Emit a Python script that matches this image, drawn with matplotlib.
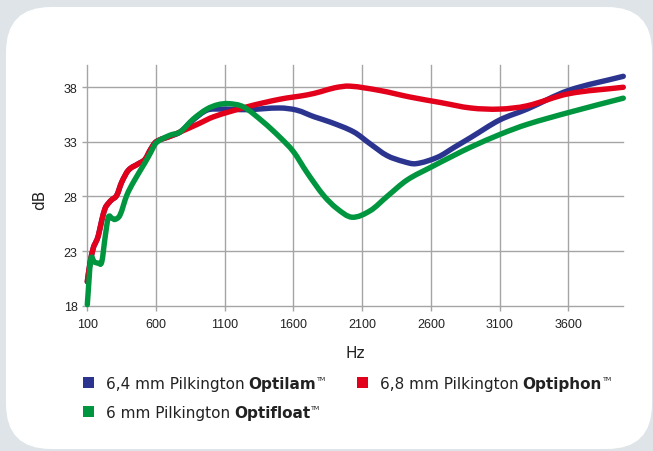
import matplotlib
matplotlib.use("Agg")
import numpy as np
import matplotlib.pyplot as plt
from matplotlib.patches import FancyBboxPatch, Rectangle, PathPatch
from matplotlib.path import Path
from matplotlib.transforms import IdentityTransform

# ---- data (Hz, dB)
red_hz = [100, 120, 144, 165, 180, 205, 229, 255, 278, 314, 350, 399, 472, 520, 560, 600,
          700, 775, 900, 1020, 1260, 1500, 1700, 1800, 1900, 2010, 2230, 2450, 2670, 2890,
          3100, 3300, 3600, 4000]
red_db = [20.2, 21.9, 23.3, 23.9, 24.4, 25.8, 26.9, 27.4, 27.7, 28.1, 29.3, 30.4, 31.0, 31.4, 32.3, 33.0,
          33.5, 33.9, 34.6, 35.3, 36.2, 36.9, 37.3, 37.6, 37.95, 38.1, 37.7, 37.1, 36.6, 36.1,
          36.0, 36.3, 37.4, 38.0]

blue_hz = [100, 120, 144, 165, 180, 205, 229, 255, 278, 314, 350, 399, 472, 520, 560, 600,
           700, 775, 870, 970, 1070, 1260, 1500, 1625, 1750, 1870, 2040, 2160, 2280, 2400,
           2490, 2650, 2770, 2890, 3100, 3300, 3600, 4000]
blue_db = [20.2, 21.9, 23.3, 23.9, 24.4, 25.8, 26.9, 27.4, 27.7, 28.1, 29.3, 30.4, 31.0, 31.4, 32.3, 33.0,
           33.5, 33.9, 35.0, 35.9, 36.0, 35.95, 36.1, 35.9, 35.3, 34.8, 33.9, 32.8, 31.75, 31.2,
           31.0, 31.6, 32.5, 33.4, 35.0, 36.0, 37.7, 39.0]

green_hz = [100, 125, 150, 180, 205, 230, 253, 280, 302, 338, 387, 435, 520, 560, 600, 700,
            775, 872, 970, 1050, 1127, 1236, 1382, 1503, 1600, 1698, 1819, 1916, 2026, 2159,
            2281, 2426, 2603, 2766, 2887, 3106, 3300, 3606, 4000]
green_db = [18.1, 22.2, 22.0, 21.9, 22.0, 24.3, 26.1, 26.0, 25.9, 26.3, 28.1, 29.3, 31.1, 32.0, 32.9, 33.6,
            33.9, 35.1, 36.0, 36.4, 36.5, 36.2, 34.8, 33.4, 32.1, 30.2, 28.1, 26.9, 26.1, 26.7,
            28.0, 29.5, 30.7, 31.75, 32.5, 33.7, 34.6, 35.7, 37.0]

x_ticks = [100, 600, 1100, 1600, 2100, 2600, 3100, 3600]
y_ticks = [18, 23, 28, 33, 38]

BLUE = "#2b3590"
RED = "#e3001b"
GREEN = "#00963f"
GRID = "#a5a5a5"
TXT = "#222222"
W, H = 653, 452


def smooth_path(xs, ys):
    # smoothed line like the spreadsheet "smooth line" option: cubic segments through the points
    x = np.asarray(xs, float)
    y = np.asarray(ys, float)
    n = len(x)
    m = np.zeros(n)
    m[0] = (y[1] - y[0]) / (x[1] - x[0])
    m[-1] = (y[-1] - y[-2]) / (x[-1] - x[-2])
    m[1:-1] = (y[2:] - y[:-2]) / (x[2:] - x[:-2])
    verts = [(x[0], y[0])]
    codes = [Path.MOVETO]
    for i in range(n - 1):
        d = (x[i + 1] - x[i]) / 3
        verts += [(x[i] + d, y[i] + m[i] * d), (x[i + 1] - d, y[i + 1] - m[i + 1] * d), (x[i + 1], y[i + 1])]
        codes += [Path.CURVE4] * 3
    return Path(verts, codes)


fig = plt.figure(figsize=(W / 100, H / 100), dpi=100)
fig.patch.set_facecolor("#dfe4e8")

# white rounded card
card = FancyBboxPatch((6, H - 450), 646, 442, boxstyle="round,pad=0,rounding_size=45",
                      transform=IdentityTransform(), facecolor="white", edgecolor="none", zorder=-5)
fig.add_artist(card)

ax = fig.add_axes([87.3 / W, 1 - 306.7 / H, (623.3 - 87.3) / W, (306.7 - 66.4) / H])
ax.set_facecolor("none")
for xs, ys, c in [(blue_hz, blue_db, BLUE), (red_hz, red_db, RED), (green_hz, green_db, GREEN)]:
    ax.add_patch(PathPatch(smooth_path(xs, ys), fill=False, edgecolor=c, lw=3.9,
                           capstyle="round", joinstyle="round", clip_on=False))

ax.set_xlim(100, 4000)
ax.set_ylim(18, 40)
ax.set_xticks(x_ticks)
ax.set_yticks(y_ticks)
ax.grid(color=GRID, lw=1.0)
for gl in ax.get_xgridlines() + ax.get_ygridlines():
    gl.set_clip_on(False)
ax.set_axisbelow(True)
for s in ax.spines.values():
    s.set_visible(False)
ax.tick_params(axis="both", length=3.6, width=1.0, color=GRID, labelcolor=TXT, labelsize=9)
ax.tick_params(axis="x", pad=5)
for lab in ax.get_xticklabels() + ax.get_yticklabels():
    lab.set_family("Liberation Sans")

fig.text(355 / W, 1 - 354 / H, "Hz", ha="center", va="center", fontsize=11, color=TXT)
fig.text(40 / W, 1 - 200 / H, "dB", ha="center", va="center", rotation=90, fontsize=11, color=TXT)

# ---- legend, built by hand (regular + bold + TM)
renderer = fig.canvas.get_renderer()
ident = IdentityTransform()


def legend_entry(x, y, color, regular, bold):
    fig.add_artist(Rectangle((x - 5.5, H - y - 5.5), 11, 11, transform=ident,
                             facecolor=color, edgecolor="none"))
    tx = x + 18
    base = H - y - 6
    t1 = fig.text(tx, base, regular, transform=ident, va="baseline", fontsize=11, color=TXT)
    w1 = t1.get_window_extent(renderer).width
    t2 = fig.text(tx + w1 + 4, base, bold, transform=ident, va="baseline", fontsize=11,
                  fontweight="bold", color=TXT)
    w2 = t2.get_window_extent(renderer).width
    fig.text(tx + w1 + 4 + w2 + 1, base + 8, "TM", transform=ident, va="baseline",
             fontsize=4.5, color=TXT)


legend_entry(88, 383, BLUE, "6,4 mm Pilkington", "Optilam")
legend_entry(362, 383, RED, "6,8 mm Pilkington", "Optiphon")
legend_entry(88, 412, GREEN, "6 mm Pilkington", "Optifloat")

fig.savefig("out.png", dpi=100, facecolor=fig.get_facecolor())
